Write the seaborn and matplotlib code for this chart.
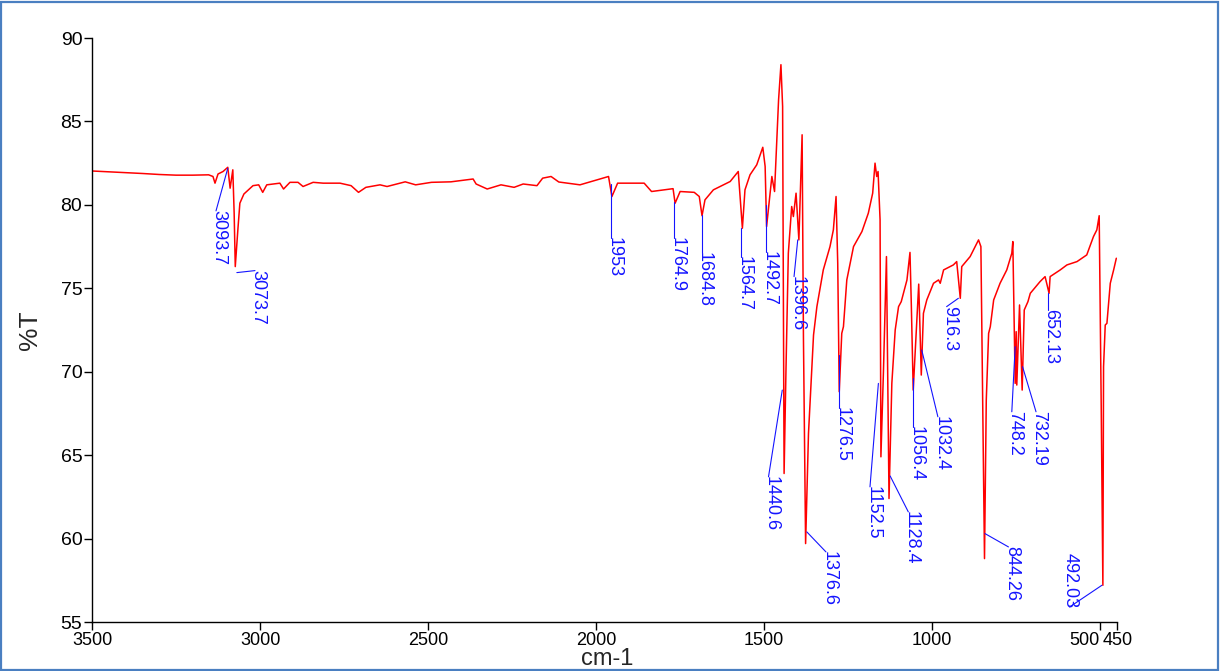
import matplotlib
matplotlib.use("Agg")
import matplotlib.pyplot as plt
import matplotlib.transforms as mtransforms
from matplotlib.patches import Rectangle
import seaborn as sns
import pandas as pd

# ---- spectrum (wavenumber cm-1, %T) ----
wavenumber = [3500, 3450, 3400, 3350, 3300, 3250, 3200, 3153, 3140, 3134, 3125, 3110, 3096, 3089, 3081,
              3077, 3073.7, 3066, 3060, 3048, 3021, 3004, 2992, 2980, 2941, 2930, 2911, 2887, 2872, 2842,
              2812, 2762, 2729, 2707, 2685, 2643, 2622, 2568, 2537, 2490, 2432, 2366, 2357, 2324, 2283,
              2244, 2217, 2176, 2159, 2134, 2111, 2048, 1963, 1953, 1936, 1857, 1835, 1771, 1764.9, 1750,
              1708, 1693, 1684.8, 1676, 1651, 1601, 1577, 1564.7, 1557, 1542, 1522, 1504, 1497, 1492.7,
              1477, 1469, 1457, 1450, 1445, 1440.6, 1435, 1428, 1418, 1413, 1405, 1396.6, 1387, 1383,
              1376.6, 1368, 1353, 1343, 1324, 1304, 1294, 1286, 1281, 1276.5, 1269, 1264, 1254, 1234,
              1209, 1190, 1177, 1170, 1165, 1161, 1155, 1152.5, 1145, 1136, 1128.4, 1120, 1110, 1100,
              1092, 1075, 1066, 1062, 1056.4, 1048, 1040, 1032.4, 1026, 1016, 996, 981, 976, 966, 937,
              927, 916.3, 912, 887, 862, 855, 844.26, 839, 832, 827, 817, 798, 778, 763, 760, 753, 750,
              748.2, 740, 732.19, 726, 715, 708, 679, 669, 664, 652.13, 649, 619, 599, 569, 540, 520,
              510, 503, 497, 492.03, 490, 485, 480, 470, 460, 452]
transmittance = [82.03, 81.98, 81.93, 81.88, 81.82, 81.78, 81.78, 81.80, 81.70, 81.30, 81.85, 82.00, 82.25, 81.00, 82.10,
                 79.5, 76.30, 78.5, 80.10, 80.65, 81.15, 81.20, 80.75, 81.20, 81.30, 80.95, 81.35, 81.35, 81.10, 81.35,
                 81.30, 81.30, 81.15, 80.75, 81.05, 81.20, 81.10, 81.38, 81.20, 81.35, 81.38, 81.55, 81.25, 80.95, 81.20,
                 81.05, 81.25, 81.15, 81.60, 81.70, 81.37, 81.20, 81.70, 80.50, 81.30, 81.30, 80.80, 80.97, 80.10, 80.80,
                 80.75, 80.50, 79.35, 80.30, 80.90, 81.40, 82.00, 78.60, 80.90, 81.80, 82.40, 83.45, 82.30, 78.70,
                 81.70, 80.80, 86.30, 88.40, 85.90, 63.90, 70.10, 77.10, 79.90, 79.30, 80.70, 77.90, 84.20, 72.0,
                 59.70, 66.30, 72.20, 73.90, 76.10, 77.50, 78.50, 80.50, 76.5, 68.80, 72.30, 72.70, 75.50, 77.50,
                 78.40, 79.50, 80.70, 82.50, 81.70, 82.00, 79.10, 64.90, 70.0, 76.90, 62.40, 69.30, 72.50, 73.90,
                 74.20, 75.50, 77.15, 74.0, 68.90, 72.10, 75.25, 69.80, 73.50, 74.30, 75.30, 75.50, 75.30, 76.10, 76.40,
                 76.60, 74.40, 76.30, 76.90, 77.90, 77.50, 58.80, 68.30, 72.30, 72.70, 74.30, 75.30, 76.10, 77.10, 77.80, 69.30, 72.40,
                 69.20, 74.00, 68.90, 73.70, 74.20, 74.70, 75.40, 75.60, 75.70, 74.70, 75.70, 76.10, 76.40, 76.60, 77.00, 78.10,
                 78.50, 79.35, 68.0, 57.20, 70.30, 72.80, 72.90, 75.30, 76.10, 76.80]

# ---- peak labels: text, leader start (on curve) and leader end (label anchor) ----
peak_labels = ["3093.7", "3073.7", "1953", "1764.9", "1684.8", "1564.7", "1492.7", "1396.6", "1440.6",
               "1376.6", "1276.5", "1152.5", "1128.4", "1056.4", "1032.4", "916.3", "844.26", "748.2",
               "732.19", "652.13", "492.03"]
lead_x0 = [3096, 3069, 1956, 1768, 1686, 1569, 1494, 1400, 1446, 1373, 1276, 1160, 1125, 1058, 1031, 922, 843, 753, 731, 656, 495]
lead_y0 = [82.19, 75.94, 81.25, 80.2, 79.4, 78.6, 80.0, 77.9, 68.9, 60.4, 71.0, 69.3, 63.75, 69.6, 71.3, 74.4, 60.3, 71.5, 70.3, 74.7, 57.2]
lead_x1 = [3131, 3015, 1956, 1768, 1686, 1569, 1494, 1411, 1487, 1316, 1276, 1185, 1071, 1058, 983, 957, 773, 763, 691, 656, 591]
lead_y1 = [79.64, 76.06, 78.0, 78.0, 77.1, 76.9, 77.2, 75.7, 63.7, 59.2, 67.8, 63.1, 61.6, 66.7, 67.3, 73.9, 59.5, 67.6, 67.6, 73.7, 55.9]

x_ticks = [3500, 3000, 2500, 2000, 1500, 1000, 500, 450]
y_ticks = [55, 60, 65, 70, 75, 80, 85, 90]

sns.set_theme(style="ticks")
plt.rcParams["font.family"] = ["Liberation Sans", "DejaVu Sans"]

fig = plt.figure(figsize=(12.2, 6.71), dpi=100)
ax = fig.add_axes([92 / 1220, 49 / 671, (1117 - 92) / 1220, (622 - 38) / 671])

df = pd.DataFrame({"wn": wavenumber, "T": transmittance})
sns.lineplot(data=df, x="wn", y="T", sort=False, estimator=None, color="#ff0000", lw=1.1, ax=ax)

blue = "#1414ff"
for lab, x0, y0, x1, y1 in zip(peak_labels, lead_x0, lead_y0, lead_x1, lead_y1):
    ax.plot([x0, x1], [y0, y1], color=blue, lw=0.8)
    if lab == "492.03":
        tr = mtransforms.offset_copy(ax.transData, fig=fig, x=1, y=-1, units="dots")
        ax.text(x1, y1, lab, rotation=270, ha="center", va="bottom", color=blue,
                fontsize=13, transform=tr)
    else:
        tr = mtransforms.offset_copy(ax.transData, fig=fig, x=3, y=1, units="dots")
        ax.text(x1, y1, lab, rotation=270, ha="center", va="top", color=blue,
                fontsize=13, transform=tr)

ax.set_xlim(3500, 450)
ax.set_ylim(55, 90)
ax.set_xticks(x_ticks)
ax.set_xticklabels([str(t) for t in x_ticks])
ax.set_yticks(y_ticks)
ax.set_yticklabels([str(t) for t in y_ticks])
ax.tick_params(axis="y", direction="out", length=6, width=1, colors="black", labelsize=14, pad=1)
ax.tick_params(axis="x", direction="out", length=6, width=1, colors="black", labelsize=13, pad=1)

# nudge the crowded 500 / 450 labels so they sit side by side as in the reference
shifts = {"500": -16, "450": 1}
for lbl in ax.get_xticklabels():
    dx = shifts.get(lbl.get_text())
    if dx:
        lbl.set_transform(lbl.get_transform() + mtransforms.ScaledTranslation(dx / 100, 0, fig.dpi_scale_trans))

for s in ["top", "right"]:
    ax.spines[s].set_visible(False)
for s in ["left", "bottom"]:
    ax.spines[s].set_color("black")
    ax.spines[s].set_linewidth(1.0)
ax.set_xlabel("cm-1", fontsize=17)
ax.xaxis.set_label_coords(0.503, -0.044)
ax.set_ylabel("%T", fontsize=19, labelpad=13)
ax.grid(False)

fig.patches.append(Rectangle((1 / 1220, 1 / 671), 1217 / 1220, 668 / 671, transform=fig.transFigure,
                             fill=False, edgecolor="#4a7fc1", lw=1.6))

fig.savefig("out.png", dpi=100)
